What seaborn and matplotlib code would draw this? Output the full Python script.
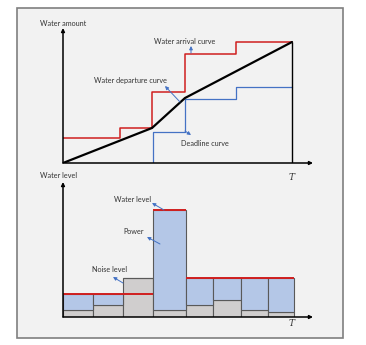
"""Water-filling illustration: arrival/departure curves and water levels."""

import matplotlib

matplotlib.use("Agg")
import matplotlib.pyplot as plt
import seaborn as sns
from matplotlib.patches import Rectangle

# top panel: cumulative water amount
arrival_t = [0, 57, 89, 122, 173, 229]
arrival_amt = [25, 35, 71, 109, 121, 121]
departure_t = [0, 89, 122, 229]
departure_amt = [0, 35, 65, 121]
deadline_t = [90, 90, 122, 173, 229]
deadline_amt = [0, 31, 64, 76, 76]
t_end = 229

# bottom panel: water level per slot
slot_edges = [0, 30, 60, 90, 123, 150, 178, 205, 231]
noise = [2.0, 3.5, 11.7, 2.0, 3.5, 5.2, 2.0, 1.5]
level = [7.0, 7.0, 7.0, 32.0, 11.7, 11.7, 11.7, 11.7]

RED = "#d01f1f"
BLUE = "#4472c4"
BAR_BLUE = "#b4c7e7"
BAR_GRAY = "#d0cece"
TXT = "#333333"
FS = 5.2

sns.set_theme(style="white")
plt.rcParams["font.family"] = ["Lato", "DejaVu Sans"]

W, H = 366, 345
fig = plt.figure(figsize=(W / 100, H / 100), dpi=100)
fig.patch.set_facecolor("white")
fig.patches.append(Rectangle((17 / W, 7 / H), 326 / W, 330 / H, transform=fig.transFigure,
                             facecolor="#f2f2f2", edgecolor="#7f7f7f", lw=1.2, zorder=-10))


def make_axes(top_px, height_px):
    ax = fig.add_axes([63 / W, (H - top_px - height_px) / H, 250 / W, height_px / H])
    ax.set_facecolor("none")
    for s in ax.spines.values():
        s.set_visible(False)
    ax.set_xticks([])
    ax.set_yticks([])
    return ax


def axis_arrows(ax, xmax, ymax):
    style = dict(arrowstyle="-|>", lw=1.1, color="black", mutation_scale=5, shrinkA=0, shrinkB=0)
    ax.annotate("", xy=(xmax, 0), xytext=(0, 0), arrowprops=style, annotation_clip=False)
    ax.annotate("", xy=(0, ymax), xytext=(0, 0), arrowprops=style, annotation_clip=False)


def note(ax, text, xy_text, head, tail):
    ax.text(*xy_text, text, fontsize=FS, color=TXT, ha="center", va="center")
    ax.annotate("", xy=head, xytext=tail,
                arrowprops=dict(arrowstyle="-|>", lw=0.7, color=BLUE, mutation_scale=5,
                                shrinkA=0, shrinkB=0))


# ---- top panel
ax1 = make_axes(28, 135)
ax1.set_xlim(0, 250)
ax1.set_ylim(0, 135)
sns.lineplot(x=arrival_t, y=arrival_amt, ax=ax1, color=RED, lw=1.1,
             drawstyle="steps-post", estimator=None, sort=False)
sns.lineplot(x=deadline_t, y=deadline_amt, ax=ax1, color=BLUE, lw=0.9,
             drawstyle="steps-post", estimator=None, sort=False)
sns.lineplot(x=departure_t, y=departure_amt, ax=ax1, color="black", lw=1.6,
             estimator=None, sort=False)
ax1.vlines(t_end, 0, departure_amt[-1], color="black", lw=1.0)
axis_arrows(ax1, 250, 135)
ax1.text(-23, 140, "Water amount", fontsize=FS, color=TXT, ha="left", va="center")
ax1.text(t_end, -14, "T", fontsize=6.5, family="DejaVu Serif", style="italic",
         ha="center", va="center", color=TXT)
note(ax1, "Water arrival curve", (122, 121), (128, 117), (128, 110))
note(ax1, "Water departure curve", (68, 83), (102, 77), (117, 61))
note(ax1, "Deadline curve", (142, 19), (128, 28), (122, 32))

# ---- bottom panel
ax2 = make_axes(182, 135)
ax2.set_xlim(0, 250)
ax2.set_ylim(0, 40.5)
left = slot_edges[:-1]
widths = [b - a for a, b in zip(slot_edges[:-1], slot_edges[1:])]
power = [max(lv - n, 0) for lv, n in zip(level, noise)]
ax2.bar(left, noise, width=widths, align="edge", color=BAR_GRAY,
        edgecolor="#595959", lw=0.8, zorder=2)
ax2.bar(left, power, width=widths, bottom=noise, align="edge", color=BAR_BLUE,
        edgecolor="#595959", lw=0.8, zorder=2)
ax2.hlines(level, slot_edges[:-1], slot_edges[1:], color=RED, lw=1.4, zorder=3)
axis_arrows(ax2, 250, 40.5)
ax2.text(-23, 42.6, "Water level", fontsize=FS, color=TXT, ha="left", va="center")
ax2.text(t_end, -1.8, "T", fontsize=6.5, family="DejaVu Serif", style="italic",
         ha="center", va="center", color=TXT)
note(ax2, "Water level", (70, 35.1), (89, 34.2), (101, 32.1))
note(ax2, "Power", (71, 25.8), (84, 24.0), (97, 21.9))
note(ax2, "Noise level", (47, 14.4), (50, 12.0), (60, 10.2))

fig.savefig("out.png", dpi=100)
plt.close(fig)
